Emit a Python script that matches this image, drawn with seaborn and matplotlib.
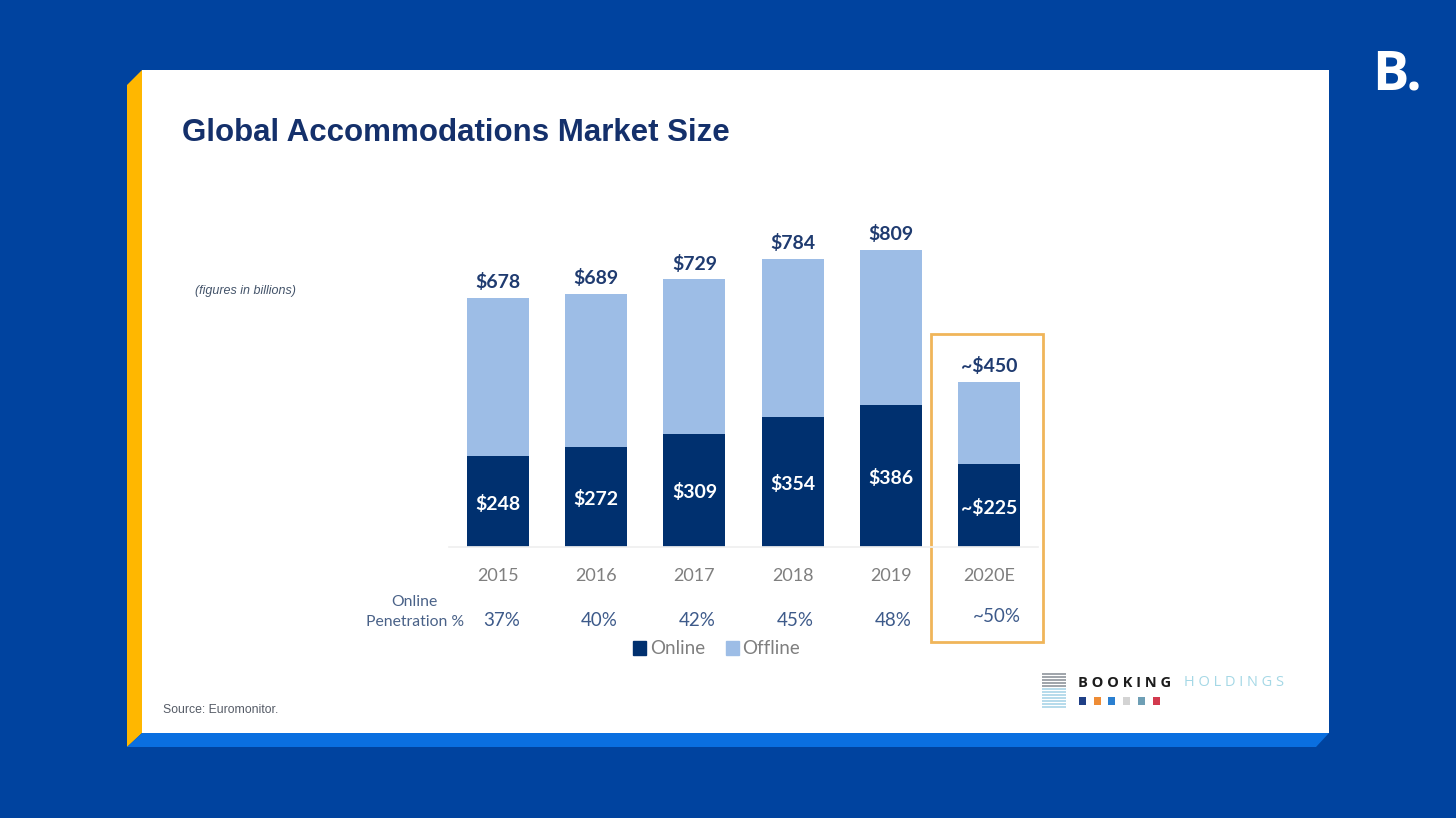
import matplotlib
matplotlib.use("Agg")
import matplotlib.pyplot as plt
from matplotlib.patches import Patch, Polygon, Rectangle
import pandas as pd
import seaborn as sns

years = ["2015", "2016", "2017", "2018", "2019", "2020E"]
totals = [678, 689, 729, 784, 809, 450]
online = [248, 272, 309, 354, 386, 225]
total_labels = ["$678", "$689", "$729", "$784", "$809", "~$450"]
online_labels = ["$248", "$272", "$309", "$354", "$386", "~$225"]
penetration = ["37%", "40%", "42%", "45%", "48%", "~50%"]

NAVY = "#00306f"
LIGHT = "#9dbde6"
BG = "#00439f"
TITLE = "#14306b"
LABEL = "#1f3b70"

sns.set_theme(style="white")
plt.rcParams["font.family"] = ["Lato", "DejaVu Sans"]

W, H = 1456, 818
fig = plt.figure(figsize=(W / 100, H / 100), dpi=100, facecolor=BG)

# slide drawn in pixel coords on a full figure axes
bg = fig.add_axes([0, 0, 1, 1], zorder=0)
bg.set_xlim(0, W)
bg.set_ylim(H, 0)
bg.axis("off")
bg.add_patch(Rectangle((142, 70), 1187, 663, color="white", lw=0))
bg.add_patch(Polygon([(127, 85), (142, 70), (142, 733), (127, 747)], color="#ffb700", lw=0))
bg.add_patch(Polygon([(142, 733), (1329, 733), (1316, 747), (127, 747)], color="#0a6fe0", lw=0))

bg.text(182, 133, "Global Accommodations Market Size", family="Liberation Sans",
        weight="bold", fontsize=22.5, color=TITLE, va="center")
bg.text(195, 291, "(figures in billions)", family="Liberation Sans", style="italic",
        fontsize=9, color="#44546a", va="center")
bg.text(163, 710, "Source: Euromonitor.", family="Liberation Sans",
        fontsize=8.8, color="#555b66", va="center")
bg.text(1372, 75, "B.", family="Open Sans", weight="bold", fontsize=39,
        color="white", va="center")

# row title for penetration
bg.text(414, 602, "Online", fontsize=11.3, color="#4a6288", ha="center", va="center")
bg.text(415, 622, "Penetration %", fontsize=11.3, color="#4a6288", ha="center", va="center")

# highlight box around the estimate
bg.add_patch(Rectangle((931, 334), 112, 308, fill=False, ec="#f0b55a", lw=2))

# booking holdings logo
for i in range(12):
    y = 674 + i * 3
    col = "#8f959c" if i < 5 else "#a9d4e8"
    bg.plot([1042, 1066], [y, y], color=col, lw=1.2, solid_capstyle="butt")
bg.text(1078, 683, "B O O K I N G", family="Open Sans", weight="bold", fontsize=10.5,
        color="#1c1c1c", va="center")
bg.text(1184, 683, "H O L D I N G S", family="Open Sans", fontsize=10.5,
        color="#a5d8e6", va="center")
for i, c in enumerate(["#1f3f86", "#ee8c35", "#2a7fd0", "#d3d3d3", "#6e9fb5", "#d23a4e"]):
    bg.add_patch(Rectangle((1079 + i * 14.7, 697), 7, 8, color=c, lw=0))

# chart
ax = fig.add_axes([449 / W, (H - 547) / H, 589 / W, 330.3 / H], zorder=1)
ax.patch.set_alpha(0)

df = pd.DataFrame({"year": years, "total": totals, "online": online})
sns.barplot(data=df, x="year", y="total", color=LIGHT, saturation=1, width=0.63,
            linewidth=0, ax=ax)
sns.barplot(data=df, x="year", y="online", color=NAVY, saturation=1, width=0.63,
            linewidth=0, ax=ax)

ax.bar_label(ax.containers[0], labels=total_labels, padding=5, fontsize=14,
             weight="bold", color=LABEL)
inner = ax.bar_label(ax.containers[1], labels=online_labels, label_type="center", fontsize=14,
                     weight="bold", color="white")
for t in inner:
    t.xyann = (0, -1.5)

ax.set_ylim(0, 900)
ax.set_xlim(-0.5, 5.5)
ax.set_xlabel("")
ax.set_ylabel("")
ax.set_yticks([])
sns.despine(ax=ax, left=True)
ax.spines["bottom"].set_color("#f0f0f0")
ax.tick_params(axis="x", length=0, pad=15, labelsize=13, labelcolor="#7f7f7f")

# penetration row sits a little off the bar centres
pen_offset = [0.04, 0.03, 0.03, 0.03, 0.03, 0.08]
for i, txt in enumerate(penetration):
    ypx = 202 if i == 5 else 198
    ax.annotate(txt, xy=(i + pen_offset[i], ypx), xycoords=("data", "figure pixels"),
                ha="center", va="center", fontsize=13.5, color="#3d5a8a")

handles = [Patch(color=NAVY, label="Online"), Patch(color=LIGHT, label="Offline")]
fig.legend(handles=handles, loc="center", bbox_to_anchor=(716.5 / W, 1 - 649 / H),
           ncol=2, frameon=False, fontsize=13.5, labelcolor="#7f7f7f",
           handlelength=0.7, handleheight=0.7, handletextpad=0.2, columnspacing=1.1)

fig.savefig("out.png", dpi=100, facecolor=BG)
